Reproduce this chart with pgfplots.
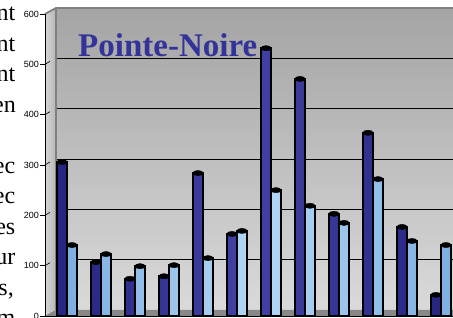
\documentclass[border=0pt]{standalone}
\usepackage{fontspec}
\setmainfont{Liberation Serif}
\setsansfont{Liberation Sans}
\usepackage{pgfplots}
\usepackage{pgfplotstable}
\pgfplotsset{compat=1.18}
\definecolor{wallTop}{RGB}{164,164,164}
\definecolor{wallBot}{RGB}{218,218,218}
\definecolor{sideL}{RGB}{212,212,212}
\definecolor{sideR}{RGB}{182,182,182}
\definecolor{floorc}{RGB}{136,136,136}
\definecolor{edgec}{RGB}{128,128,128}
\definecolor{navyL}{RGB}{38,38,128}
\definecolor{navyM}{RGB}{66,66,165}
\definecolor{skyL}{RGB}{125,175,225}
\definecolor{skyM}{RGB}{180,215,247}
\definecolor{titleblue}{RGB}{51,51,153}

\pgfplotstableread{
x y
0.853 306
1.853 107
2.853 74
3.853 79
4.853 284
5.853 163
6.853 532
7.853 471
8.853 203
9.853 364
10.853 177
11.853 42
}\darkdata
\pgfplotstableread{
x y
1.147 141
2.147 123
3.147 99
4.147 101
5.147 115
6.147 169
7.147 250
8.147 219
9.147 185
10.147 272
11.147 149
12.147 141
}\lightdata

\begin{document}
\begin{tikzpicture}
\useasboundingbox (0,0) rectangle (453pt,318pt);
\clip (0,0) rectangle (453pt,318pt);
% surrounding document text (cut off)
\begin{scope}[every node/.style={anchor=base east, inner sep=0pt, font=\fontsize{24}{24}\selectfont}]
\node at (15.5pt,297pt) {nt};
\node at (15.5pt,266.5pt) {nt};
\node at (15.5pt,236pt) {nt};
\node at (16pt,205.5pt) {en};
\node at (15.5pt,144.5pt) {ec};
\node at (15.5pt,114pt) {ec};
\node at (15.5pt,83.5pt) {es};
\node at (15.5pt,53pt) {ur};
\node at (14pt,22.5pt) {s,};
\node at (15.5pt,-8pt) {m};
\end{scope}

% back wall with gridlines
\begin{axis}[at={(56pt,8pt)}, anchor=south west, scale only axis,
  width=397pt, height=302pt, xmin=0, xmax=1, ymin=0, ymax=600,
  xtick=\empty, ytick={100,200,300,400,500}, yticklabels={},
  ymajorgrids, grid style={black, line width=0.8pt},
  axis line style={draw=none}, major tick length=0pt,
  axis background/.style={top color=wallTop, bottom color=wallBot}]
\end{axis}

% side wall, floor, edges
\fill[left color=sideL, right color=sideR] (45pt,2pt) -- (45pt,304pt) -- (56pt,310pt) -- (56pt,8pt) -- cycle;
\fill[floorc] (45pt,2pt) -- (56pt,8pt) -- (453pt,8pt) -- (453pt,2pt) -- cycle;
\draw[edgec, line width=1.2pt] (56pt,8pt) -- (56pt,310pt);
\draw[edgec, line width=1.8pt] (45pt,304pt) -- (56pt,310pt) -- (454pt,310pt);
\foreach \v in {1,...,5} \draw[black, line width=0.6pt] (45pt,2pt+\v*50.333pt) -- ++(5pt,3pt);

% title
\node[anchor=base west, inner sep=0pt, text=titleblue,
  font=\bfseries\fontsize{33}{33}\selectfont] at (78pt,261pt) {Pointe-Noire};

% front axis with bars
\begin{axis}[at={(45pt,2pt)}, anchor=south west, scale only axis,
  width=408pt, height=302pt, xmin=0.353, xmax=12.353, ymin=0, ymax=600,
  axis x line*=bottom, axis y line*=left, xtick=\empty,
  ytick={0,100,...,600}, tick align=outside, major tick length=5pt,
  tick style={black, line width=0.6pt},
  axis line style={black, line width=0.8pt},
  /pgf/number format/assume math mode=true,
  yticklabel style={font=\sffamily\fontsize{9}{10}\selectfont, inner sep=1pt}]
\addplot[ybar, bar width=10pt, bar shift=0pt, draw=black, line width=1.5pt,
  left color=navyL, right color=navyL, middle color=navyM] table[x=x,y=y]{\darkdata};
\addplot[ybar, bar width=10pt, bar shift=0pt, draw=black, line width=1.5pt,
  left color=skyL, right color=skyL, middle color=skyM] table[x=x,y=y]{\lightdata};
\addplot[only marks, mark=*, mark size=5.2pt,
  mark options={fill=black, draw=black, yscale=0.5}] table[x=x,y=y]{\darkdata};
\addplot[only marks, mark=*, mark size=5.2pt,
  mark options={fill=black, draw=black, yscale=0.5}] table[x=x,y=y]{\lightdata};
\end{axis}
\end{tikzpicture}
\end{document}
